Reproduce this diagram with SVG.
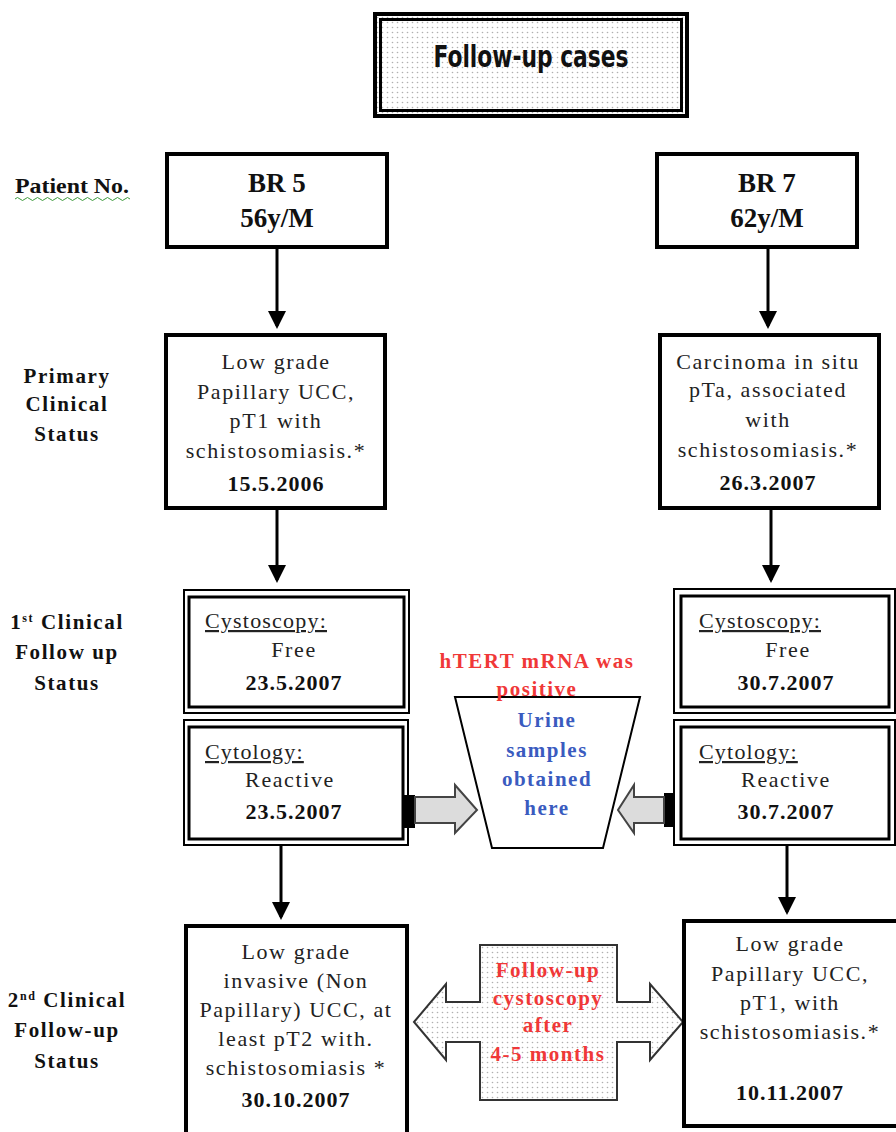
<svg xmlns="http://www.w3.org/2000/svg" width="896" height="1132" viewBox="0 0 896 1132">
<defs>
<pattern id="dots" width="5" height="5" patternUnits="userSpaceOnUse">
<rect width="5" height="5" fill="#ffffff"/>
<circle cx="2.5" cy="2.5" r="0.8" fill="#b0b0b0"/>
</pattern>
<marker id="ah" markerWidth="6" markerHeight="6" refX="5" refY="3" orient="auto" markerUnits="strokeWidth">
<path d="M0,0 L6,3 L0,6 z" fill="#000"/>
</marker>
<style>
.box{fill:#fff;stroke:#000;stroke-width:4}
.thin{fill:none;stroke:#000;stroke-width:2}
.thick{fill:#fff;stroke:#000;stroke-width:3}
.t{font-family:"Liberation Serif","Times New Roman",serif;font-size:22px;letter-spacing:1.6px;fill:#222;text-anchor:middle}
.b{font-family:"Liberation Serif","Times New Roman",serif;font-size:22px;font-weight:bold;letter-spacing:1px;fill:#111;text-anchor:middle}
.big{font-family:"Liberation Serif","Times New Roman",serif;font-size:27px;font-weight:bold;fill:#111;text-anchor:middle}
.lab{font-family:"Liberation Serif","Times New Roman",serif;font-size:21px;font-weight:bold;letter-spacing:1.6px;fill:#111;text-anchor:middle}
.ul{font-family:"Liberation Serif","Times New Roman",serif;font-size:22px;letter-spacing:1.2px;fill:#222;text-decoration:underline}
.red{font-family:"Liberation Serif","Times New Roman",serif;font-size:21px;font-weight:bold;letter-spacing:1.5px;fill:#f03838;text-anchor:middle}
.blue{font-family:"Liberation Serif","Times New Roman",serif;font-size:21px;font-weight:bold;letter-spacing:1.5px;fill:#3a5bbf;text-anchor:middle}
.conn{stroke:#000;stroke-width:3;fill:none;marker-end:url(#ah)}
.blk{fill:#dcdcdc;stroke:#444;stroke-width:2}
</style>
</defs>
<rect width="896" height="1132" fill="#fff"/>

<g id="title">
<rect x="375" y="14" width="312" height="102" fill="url(#dots)" stroke="#000" stroke-width="4"/>
<rect x="380.5" y="19.5" width="301" height="91" fill="none" stroke="#000" stroke-width="3"/>
<text x="531" y="67" font-family="'Liberation Sans Narrow','DejaVu Sans Condensed','Liberation Sans',sans-serif" font-size="30" font-weight="bold" fill="#111" text-anchor="middle" textLength="195" lengthAdjust="spacingAndGlyphs">Follow-up cases</text>
</g>

<g id="label-patient">
<text x="15" y="193" font-family="'Liberation Serif','Times New Roman',serif" font-size="21" font-weight="bold" fill="#111" textLength="114" lengthAdjust="spacingAndGlyphs">Patient No.</text>
<path d="M15,199 q2.5,-3 5,0 t5,0 t5,0 t5,0 t5,0 t5,0 t5,0 t5,0 t5,0 t5,0 t5,0 t5,0 t5,0 t5,0 t5,0 t5,0 t5,0 t5,0 t5,0 t5,0 t5,0 t5,0 t5,0" fill="none" stroke="#3a9a3a" stroke-width="1"/>
</g>
<g id="label-primary">
<text class="lab" x="67" y="383">Primary</text>
<text class="lab" x="67" y="411">Clinical</text>
<text class="lab" x="67" y="441">Status</text>
</g>
<g id="label-first">
<text class="lab" x="67" y="629">1<tspan font-size="12" baseline-shift="super">st</tspan> Clinical</text>
<text class="lab" x="67" y="659">Follow up</text>
<text class="lab" x="67" y="690">Status</text>
</g>
<g id="label-second">
<text class="lab" x="67" y="1007">2<tspan font-size="12" baseline-shift="super">nd</tspan> Clinical</text>
<text class="lab" x="67" y="1037">Follow-up</text>
<text class="lab" x="67" y="1068">Status</text>
</g>

<g id="connectors">
<line class="conn" x1="277" y1="248" x2="277" y2="326"/>
<line class="conn" x1="768" y1="248" x2="768" y2="326"/>
<line class="conn" x1="277" y1="510" x2="277" y2="580"/>
<line class="conn" x1="771" y1="510" x2="771" y2="580"/>
<line class="conn" x1="281" y1="845" x2="281" y2="917"/>
<line class="conn" x1="787" y1="845" x2="787" y2="912"/>
<g id="arrow-left-block">
<rect x="403" y="795" width="12" height="33" fill="#000"/>
<path class="blk" d="M415,797 L455,797 L455,785 L477,810 L455,833 L455,823 L415,823 Z"/>
</g>
<g id="arrow-right-block">
<rect x="664" y="793" width="10" height="34" fill="#000"/>
<path class="blk" d="M664,797 L634,797 L634,785 L618,810 L634,833 L634,823 L664,823 Z"/>
</g>
</g>

<g id="br5">
<rect class="box" x="167" y="154" width="220" height="93"/>
<text class="big" x="277" y="192">BR 5</text>
<text class="big" x="277" y="227">56y/M</text>
</g>
<g id="br7">
<rect class="box" x="657" y="154" width="200" height="93"/>
<text class="big" x="767" y="192">BR 7</text>
<text class="big" x="767" y="227">62y/M</text>
</g>

<g id="primary-br5">
<rect class="box" x="166" y="335" width="219" height="173"/>
<text class="t" x="276" y="369">Low grade</text>
<text class="t" x="276" y="399">Papillary UCC,</text>
<text class="t" x="276" y="428">pT1 with</text>
<text class="t" x="276" y="458">schistosomiasis.*</text>
<text class="b" x="276" y="491">15.5.2006</text>
</g>
<g id="primary-br7">
<rect class="box" x="660" y="335" width="219" height="173"/>
<text class="t" x="768" y="369">Carcinoma in situ</text>
<text class="t" x="768" y="397">pTa, associated</text>
<text class="t" x="768" y="427">with</text>
<text class="t" x="768" y="457">schistosomiasis.*</text>
<text class="b" x="768" y="490">26.3.2007</text>
</g>

<g id="cysto-br5">
<rect class="thin" x="184" y="590" width="225" height="123"/>
<rect class="thick" x="189" y="597" width="215" height="110"/>
<text class="ul" x="205" y="628">Cystoscopy:</text>
<text class="t" x="294" y="657">Free</text>
<text class="b" x="294" y="690">23.5.2007</text>
</g>
<g id="cyto-br5">
<rect class="thin" x="184" y="720" width="224" height="125"/>
<rect class="thick" x="189" y="727" width="214" height="112"/>
<text class="ul" x="205" y="759">Cytology:</text>
<text class="t" x="290" y="787">Reactive</text>
<text class="b" x="294" y="819">23.5.2007</text>
</g>
<g id="cysto-br7">
<rect class="thin" x="674" y="589" width="221" height="124"/>
<rect class="thick" x="681" y="596" width="208" height="111"/>
<text class="ul" x="699" y="628">Cystoscopy:</text>
<text class="t" x="788" y="657">Free</text>
<text class="b" x="786" y="690">30.7.2007</text>
</g>
<g id="cyto-br7">
<rect class="thin" x="674" y="720" width="221" height="125"/>
<rect class="thick" x="681" y="727" width="208" height="112"/>
<text class="ul" x="699" y="759">Cytology:</text>
<text class="t" x="786" y="787">Reactive</text>
<text class="b" x="786" y="819">30.7.2007</text>
</g>

<g id="urine">
<path d="M455,697 L640,697 L603,848 L492,848 Z" fill="#fff" stroke="#000" stroke-width="2"/>
<text class="red" x="537" y="668" font-size="22">hTERT mRNA was</text>
<text class="red" x="537" y="696" font-size="22">positive</text>
<text class="blue" x="547" y="727">Urine</text>
<text class="blue" x="547" y="757">samples</text>
<text class="blue" x="547" y="786">obtained</text>
<text class="blue" x="547" y="815">here</text>
</g>

<g id="followup-arrow">
<path d="M414,1022 L446,984 L446,1002 L480,1002 L480,945 L617,945 L617,1002 L650,1002 L650,984 L683,1022 L650,1060 L650,1042 L617,1042 L617,1100 L480,1100 L480,1042 L446,1042 L446,1060 Z" fill="url(#dots)" stroke="#333" stroke-width="2"/>
<text class="red" x="548" y="977">Follow-up</text>
<text class="red" x="548" y="1005">cystoscopy</text>
<text class="red" x="548" y="1032">after</text>
<text class="red" x="548" y="1061">4-5 months</text>
</g>

<g id="second-br5">
<rect class="box" x="186" y="926" width="221" height="220"/>
<text class="t" x="296" y="959">Low grade</text>
<text class="t" x="296" y="988">invasive (Non</text>
<text class="t" x="296" y="1017">Papillary) UCC, at</text>
<text class="t" x="296" y="1046">least pT2 with.</text>
<text class="t" x="296" y="1075">schistosomiasis *</text>
<text class="b" x="296" y="1107">30.10.2007</text>
</g>
<g id="second-br7">
<rect class="box" x="684" y="921" width="220" height="205"/>
<text class="t" x="790" y="951">Low grade</text>
<text class="t" x="790" y="981">Papillary UCC,</text>
<text class="t" x="790" y="1010">pT1, with</text>
<text class="t" x="790" y="1039">schistosomiasis.*</text>
<text class="b" x="790" y="1100">10.11.2007</text>
</g>
</svg>
